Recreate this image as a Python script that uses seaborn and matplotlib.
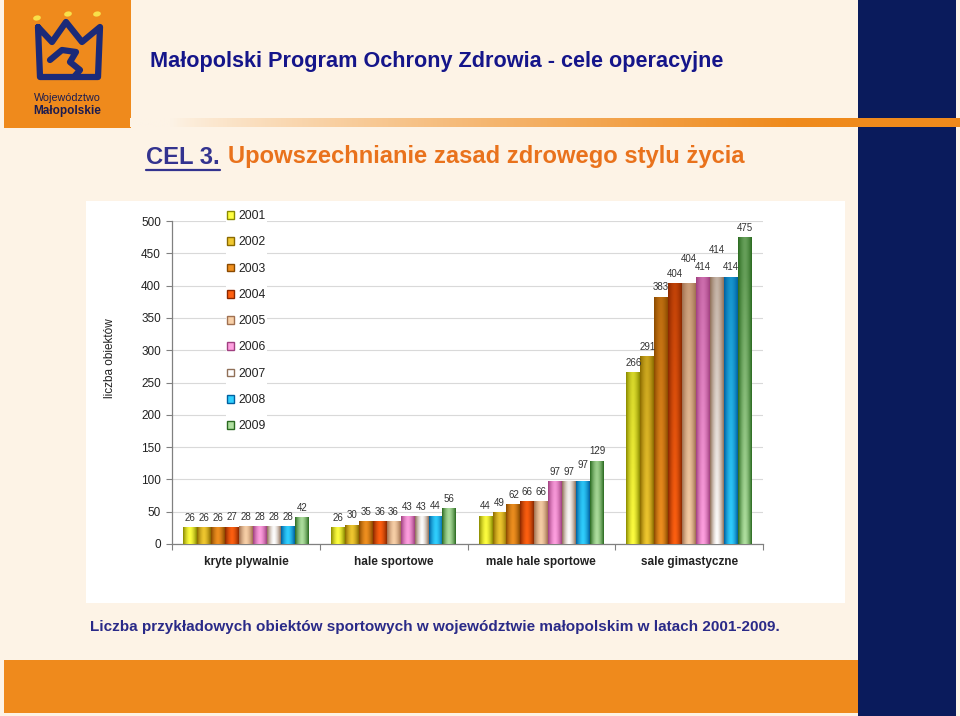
import numpy as np
import pandas as pd
import matplotlib
matplotlib.use("Agg")
import matplotlib.pyplot as plt
import seaborn as sns
from matplotlib.patches import Rectangle, Ellipse
from matplotlib.lines import Line2D
from matplotlib import font_manager as fm
from matplotlib.colors import to_rgb

# ---------------- data ----------------
categories = ["kryte plywalnie", "hale sportowe", "male hale sportowe", "sale gimastyczne"]
years = ["2001", "2002", "2003", "2004", "2005", "2006", "2007", "2008", "2009"]
v2001 = [26, 26, 44, 266]
v2002 = [26, 30, 49, 291]
v2003 = [26, 35, 62, 383]
v2004 = [27, 36, 66, 404]
v2005 = [28, 36, 66, 404]
v2006 = [28, 43, 97, 414]
v2007 = [28, 43, 97, 414]
v2008 = [28, 44, 97, 414]
v2009 = [42, 56, 129, 475]
values = [v2001, v2002, v2003, v2004, v2005, v2006, v2007, v2008, v2009]

title_text = "Małopolski Program Ochrony Zdrowia - cele operacyjne"
cel_text = "CEL 3."
goal_text = "Upowszechnianie zasad zdrowego stylu życia"
caption_text = "Liczba przykładowych obiektów sportowych w województwie małopolskim w latach 2001-2009."
ylabel_text = "liczba obiektów"

rows = []
for yi, yr in enumerate(years):
    for ci, cat in enumerate(categories):
        rows.append((cat, yr, values[yi][ci]))
df = pd.DataFrame(rows, columns=["kategoria", "rok", "liczba"])

# ---------------- style ----------------
dark_cols = ["#8a8a00", "#8a6a00", "#8a4a00", "#8a2800", "#a07050",
             "#a04080", "#907058", "#0060a0", "#2a6a20"]
light_cols = ["#ffff40", "#f0c830", "#f09020", "#ff6010", "#f8d0a8",
              "#ffa0e0", "#ffffff", "#30d0ff", "#b0e0a0"]
base_cols = ["#e0e000", "#d0a000", "#d07800", "#e04800", "#e0b080",
             "#e080c0", "#e8e0d8", "#10a0e8", "#60a040"]
# extra label lift in px for crowded labels: (category index, year index)
label_lift = {(3, 4): 15, (3, 6): 17, (2, 7): 7}

sns.set_theme(style="white")
names = {f.name for f in fm.fontManager.ttflist}
BASE = "Liberation Sans" if "Liberation Sans" in names else "DejaVu Sans"
NARROW = "Liberation Sans Narrow" if "Liberation Sans Narrow" in names else BASE
plt.rcParams["font.family"] = [BASE, "DejaVu Sans"]

W, H = 960, 716
CREAM = "#fdf3e6"
NAVY = "#0a1b5c"
ORANGE = "#ef8a1c"

fig = plt.figure(figsize=(9.6, 7.16), dpi=100, facecolor=CREAM)


def fx(x):
    return x / W


def fy(y):
    return 1 - y / H


def rect(x0, y0, x1, y1, color, z=-10):
    fig.patches.append(Rectangle((fx(x0), fy(y1)), (x1 - x0) / W, (y1 - y0) / H,
                                 transform=fig.transFigure, facecolor=color,
                                 edgecolor="none", zorder=z))


# slide decoration
rect(4, 0, 131, 128, ORANGE)
rect(858, 0, 956, 716, NAVY, z=-9)
rect(4, 660, 858, 713, ORANGE)
rect(86, 201, 845, 603, "white")

# gradient strip
axg = fig.add_axes([fx(130), fy(127), (960 - 130) / W, 9 / H])
axg.set_axis_off()
n = 400
t = np.linspace(0, 1, n)
alpha = np.clip((t - 0.05) / 0.75, 0, 1) ** 0.8
c0 = np.array(to_rgb(ORANGE))
cr = np.array(to_rgb(CREAM))
strip = cr[None, :] * (1 - alpha[:, None]) + c0[None, :] * alpha[:, None]
axg.imshow(strip[None, :, :], aspect="auto", extent=(0, 1, 0, 1))

# logo
crown = [(38, 27), (52, 42), (66, 22), (82, 42), (100, 27), (98, 77), (40, 77), (38, 27)]
fig.lines.append(Line2D([fx(p[0]) for p in crown], [fy(p[1]) for p in crown],
                        transform=fig.transFigure, color="#1b2a78", lw=4.5,
                        solid_joinstyle="round", zorder=5))
river = [(50, 60), (62, 50), (76, 52), (70, 62), (80, 70), (74, 77)]
fig.lines.append(Line2D([fx(p[0]) for p in river], [fy(p[1]) for p in river],
                        transform=fig.transFigure, color="#1b2a78", lw=4.5,
                        solid_capstyle="round", zorder=5))
for (cx, cy) in [(37, 18), (68, 14), (97, 14)]:
    fig.patches.append(Ellipse((fx(cx), fy(cy)), 8 / W, 5 / H, angle=30,
                               transform=fig.transFigure, facecolor="#f8e04a",
                               edgecolor="none", zorder=5))
lt1 = fig.text(fx(67), fy(98), "Województwo", ha="center", va="center",
               color="#1c1c50", fontsize=7)
lt2 = fig.text(fx(67), fy(111), "Małopolskie", ha="center", va="center",
               color="#1c1c50", fontsize=7, fontweight="bold")

# ---------------- chart ----------------
ax = fig.add_axes([fx(172), fy(544), (763 - 172) / W, (544 - 221) / H])
ax.set_facecolor("none")

sns.barplot(data=df, x="kategoria", y="liczba", hue="rok", order=categories,
            hue_order=years, palette=base_cols, width=0.85, gap=0,
            saturation=1, edgecolor="none", legend=False, ax=ax, zorder=2)


def gradient(dark, light, hval):
    d = np.array(to_rgb(dark))
    l = np.array(to_rgb(light))
    tt = np.linspace(0, 1, 40)
    prof = 1 - np.abs(2 * tt - 1) ** 1.6
    yy = np.linspace(0, hval, 80)
    dim = 1 - 0.55 * np.clip(yy / 420, 0, 1)
    k = prof[None, :] * dim[:, None]
    return d[None, None, :] + (l - d)[None, None, :] * k[:, :, None]


for yi, cont in enumerate(ax.containers):
    for ci, bar in enumerate(cont):
        x0 = bar.get_x()
        w = bar.get_width()
        h = bar.get_height()
        img = gradient(dark_cols[yi], light_cols[yi], h)
        im = ax.imshow(img, extent=(x0, x0 + w, 0, h), origin="lower",
                       aspect="auto", interpolation="bilinear", zorder=3)
        im.set_clip_path(bar)
        lift = label_lift.get((ci, yi), 0)
        ax.annotate(f"{h:.0f}", (x0 + w / 2, h), xytext=(0, 3 + lift * 0.72),
                    textcoords="offset points", ha="center", va="bottom",
                    fontsize=7, color="#333333", zorder=5)

ax.set_xlim(-0.5, 3.5)
ax.set_ylim(0, 500)
ax.set_yticks(range(0, 501, 50))
ax.yaxis.grid(True, color="#d9d9d9", lw=0.8)
ax.xaxis.grid(False)
ax.set_axisbelow(True)
for s in ["top", "right"]:
    ax.spines[s].set_visible(False)
for s in ["left", "bottom"]:
    ax.spines[s].set_visible(True)
    ax.spines[s].set_color("#808080")
    ax.spines[s].set_linewidth(0.9)
ax.tick_params(axis="y", left=True, length=4, width=0.8, color="#808080",
               labelsize=8.5, pad=4, labelcolor="#222222")
ax.set_xticks(range(len(categories)))
ax.set_xticklabels(categories, fontfamily=NARROW, fontweight="bold",
                   fontsize=8.5, color="#222222")
ax.set_xticks(np.arange(-0.5, len(categories), 1.0), minor=True)
ax.tick_params(axis="x", which="major", length=0, pad=9)
ax.tick_params(axis="x", which="minor", bottom=True, length=4, width=0.8,
               color="#808080")
ax.set_xlabel("")
ax.set_ylabel(ylabel_text, fontfamily=NARROW, fontsize=8.5, color="#222222")
ax.yaxis.set_label_coords((116 - 172) / 591, (544 - 358) / 323)

handles = [Rectangle((0, 0), 1, 1, facecolor=light_cols[i], edgecolor=dark_cols[i],
                     lw=1.0) for i in range(len(years))]
leg = ax.legend(handles, years, loc="upper left",
                bbox_to_anchor=(fx(226), fy(209)), bbox_transform=fig.transFigure,
                frameon=True, facecolor="white", edgecolor="none", framealpha=1,
                fontsize=8.7, handlelength=0.6, handleheight=0.6,
                handletextpad=0.35, labelspacing=1.18, borderpad=0.1,
                borderaxespad=0, fancybox=False)
for tx in leg.get_texts():
    tx.set_color("#222222")

# ---------------- slide texts ----------------
t_title = fig.text(fx(150), fy(62), title_text, family=[NARROW, "DejaVu Sans"],
                   fontweight="bold", color="#15158a", va="center", ha="left",
                   fontsize=16)
t_goal = fig.text(fx(228), fy(157), goal_text, family=[NARROW, "DejaVu Sans"],
                  fontweight="bold", color="#e9721c", va="center", ha="left",
                  fontsize=20)
t_cel = fig.text(fx(146), fy(157), cel_text, family=[NARROW, "DejaVu Sans"],
                 fontweight="bold", color="#33338f", va="center", ha="left",
                 fontsize=20)
t_cap = fig.text(fx(90), fy(627), caption_text, family=[NARROW, "DejaVu Sans"],
                 fontweight="bold", color="#2a2a88", va="center", ha="left",
                 fontsize=12)

fig.canvas.draw()
rend = fig.canvas.get_renderer()


def fit(txt, target):
    bb = txt.get_window_extent(rend)
    txt.set_fontsize(txt.get_fontsize() * target / bb.width)


fit(t_title, 572)
fit(t_goal, 515)
t_cel.set_fontsize(t_goal.get_fontsize())
fit(t_cap, 683)
fit(lt1, 66)
fit(lt2, 67)
fig.canvas.draw()
bb = t_cel.get_window_extent(rend)
fig.lines.append(Line2D([bb.x0 / W, bb.x1 / W], [fy(170), fy(170)],
                        transform=fig.transFigure, color="#33338f", lw=1.6))

fig.savefig("out.png", dpi=100, facecolor=CREAM)
